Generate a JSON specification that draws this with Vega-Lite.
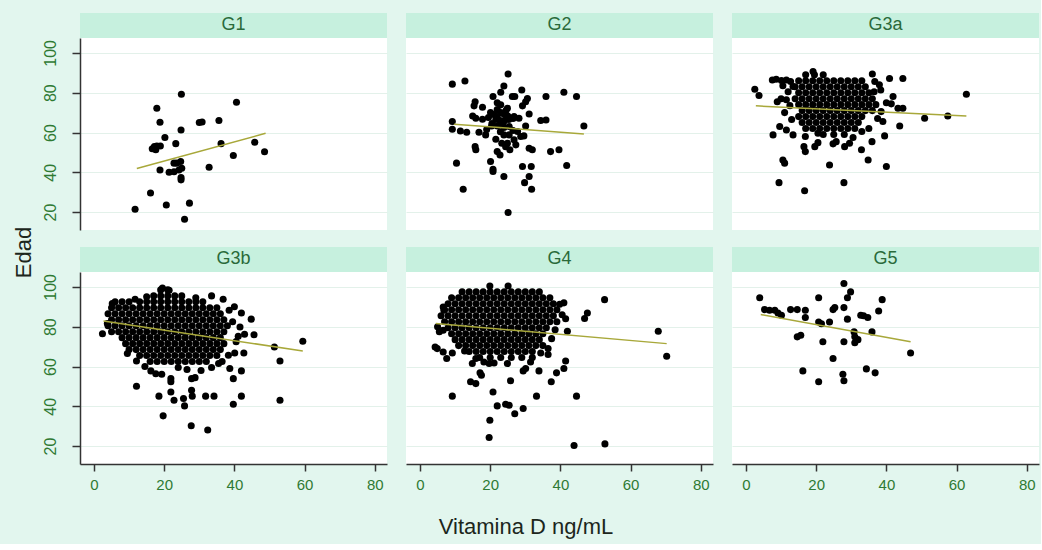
{
"$schema": "https://vega.github.io/schema/vega-lite/v6.json",
"background": "#E2F6EE",
"padding": {"left": 13, "top": 12, "right": 2, "bottom": 6},
"title": {"text": "Vitamina D ng/mL", "orient": "bottom", "anchor": "middle", "offset": 25, "fontSize": 22, "fontWeight": "normal", "font": "Liberation Sans", "color": "#1c261c"},
"data": {"values": [
{"g":"G1","x":24.9,"y":79.2},{"g":"G1","x":17.9,"y":72.2},{"g":"G1","x":40.6,"y":75.2},{"g":"G1","x":18.8,"y":65.2},{"g":"G1","x":30.0,"y":65.0},{"g":"G1","x":30.8,"y":65.3},{"g":"G1","x":35.6,"y":66.0},{"g":"G1","x":24.8,"y":61.3},{"g":"G1","x":20.2,"y":57.5},{"g":"G1","x":23.3,"y":54.4},{"g":"G1","x":36.2,"y":54.4},{"g":"G1","x":45.8,"y":55.1},{"g":"G1","x":48.6,"y":50.3},{"g":"G1","x":16.6,"y":51.8},{"g":"G1","x":17.2,"y":52.9},{"g":"G1","x":17.9,"y":53.2},{"g":"G1","x":18.9,"y":53.2},{"g":"G1","x":17.6,"y":51.3},{"g":"G1","x":39.7,"y":48.4},{"g":"G1","x":32.8,"y":42.5},{"g":"G1","x":18.8,"y":41.2},{"g":"G1","x":22.8,"y":44.6},{"g":"G1","x":23.6,"y":44.6},{"g":"G1","x":24.7,"y":45.4},{"g":"G1","x":21.4,"y":40.0},{"g":"G1","x":22.8,"y":40.3},{"g":"G1","x":24.2,"y":41.2},{"g":"G1","x":25.0,"y":42.0},{"g":"G1","x":24.8,"y":37.4},{"g":"G1","x":24.8,"y":36.2},{"g":"G1","x":16.1,"y":29.6},{"g":"G1","x":11.7,"y":21.4},{"g":"G1","x":20.6,"y":23.6},{"g":"G1","x":27.2,"y":24.5},{"g":"G1","x":25.8,"y":16.4},
{"g":"G2","x":25.1,"y":89.4},{"g":"G2","x":9.2,"y":84.3},{"g":"G2","x":12.8,"y":85.9},{"g":"G2","x":23.9,"y":83.4},{"g":"G2","x":29.0,"y":81.4},{"g":"G2","x":41.0,"y":80.2},{"g":"G2","x":44.6,"y":78.1},{"g":"G2","x":35.9,"y":78.1},{"g":"G2","x":20.8,"y":78.1},{"g":"G2","x":23.0,"y":80.2},{"g":"G2","x":26.3,"y":78.1},{"g":"G2","x":27.0,"y":78.1},{"g":"G2","x":30.6,"y":77.1},{"g":"G2","x":30.1,"y":75.5},{"g":"G2","x":15.7,"y":75.5},{"g":"G2","x":15.4,"y":73.4},{"g":"G2","x":17.8,"y":72.7},{"g":"G2","x":22.0,"y":75.0},{"g":"G2","x":23.0,"y":73.9},{"g":"G2","x":24.9,"y":72.2},{"g":"G2","x":29.2,"y":73.4},{"g":"G2","x":31.1,"y":69.3},{"g":"G2","x":15.0,"y":68.3},{"g":"G2","x":15.9,"y":67.2},{"g":"G2","x":17.8,"y":66.7},{"g":"G2","x":20.1,"y":70.0},{"g":"G2","x":21.0,"y":69.0},{"g":"G2","x":22.0,"y":68.0},{"g":"G2","x":23.0,"y":70.0},{"g":"G2","x":24.0,"y":69.0},{"g":"G2","x":25.0,"y":68.3},{"g":"G2","x":21.6,"y":66.5},{"g":"G2","x":22.8,"y":66.0},{"g":"G2","x":24.0,"y":65.8},{"g":"G2","x":25.3,"y":66.5},{"g":"G2","x":26.5,"y":67.0},{"g":"G2","x":20.5,"y":64.5},{"g":"G2","x":23.5,"y":64.0},{"g":"G2","x":19.5,"y":67.5},{"g":"G2","x":24.5,"y":71.0},{"g":"G2","x":22.0,"y":71.5},{"g":"G2","x":26.8,"y":68.0},{"g":"G2","x":28.2,"y":67.2},{"g":"G2","x":34.4,"y":66.0},{"g":"G2","x":35.9,"y":66.3},{"g":"G2","x":9.2,"y":65.5},{"g":"G2","x":9.2,"y":61.6},{"g":"G2","x":13.3,"y":60.1},{"g":"G2","x":16.8,"y":60.1},{"g":"G2","x":18.7,"y":58.8},{"g":"G2","x":20.4,"y":63.3},{"g":"G2","x":22.0,"y":63.3},{"g":"G2","x":23.9,"y":62.5},{"g":"G2","x":25.4,"y":63.0},{"g":"G2","x":30.1,"y":63.3},{"g":"G2","x":46.7,"y":63.3},{"g":"G2","x":21.6,"y":56.6},{"g":"G2","x":23.9,"y":58.8},{"g":"G2","x":22.9,"y":60.4},{"g":"G2","x":25.4,"y":58.8},{"g":"G2","x":24.9,"y":54.6},{"g":"G2","x":26.8,"y":56.3},{"g":"G2","x":28.7,"y":58.0},{"g":"G2","x":29.6,"y":58.3},{"g":"G2","x":23.3,"y":54.6},{"g":"G2","x":24.4,"y":52.9},{"g":"G2","x":25.6,"y":51.3},{"g":"G2","x":27.3,"y":53.8},{"g":"G2","x":15.7,"y":52.9},{"g":"G2","x":15.9,"y":51.3},{"g":"G2","x":31.1,"y":52.1},{"g":"G2","x":32.0,"y":51.3},{"g":"G2","x":37.2,"y":50.4},{"g":"G2","x":39.6,"y":51.3},{"g":"G2","x":22.0,"y":50.4},{"g":"G2","x":22.8,"y":48.7},{"g":"G2","x":10.4,"y":44.6},{"g":"G2","x":20.1,"y":45.4},{"g":"G2","x":20.8,"y":41.5},{"g":"G2","x":20.8,"y":40.4},{"g":"G2","x":29.2,"y":42.9},{"g":"G2","x":31.7,"y":42.9},{"g":"G2","x":41.8,"y":43.4},{"g":"G2","x":23.9,"y":37.9},{"g":"G2","x":31.1,"y":37.9},{"g":"G2","x":29.8,"y":34.8},{"g":"G2","x":12.3,"y":31.5},{"g":"G2","x":31.8,"y":31.5},{"g":"G2","x":25.1,"y":19.8},{"g":"G2","x":26.5,"y":61.0},{"g":"G2","x":27.8,"y":60.5},{"g":"G2","x":19.0,"y":61.5},{"g":"G2","x":11.5,"y":60.8},
{"g":"G3a","x":17,"y":89},{"g":"G3a","x":19.5,"y":89},{"g":"G3a","x":22,"y":89},
{"g":"G3a","x":15,"y":86},{"g":"G3a","x":17,"y":86},{"g":"G3a","x":19,"y":86},{"g":"G3a","x":21,"y":86},{"g":"G3a","x":23,"y":86},{"g":"G3a","x":25,"y":86},{"g":"G3a","x":27,"y":86},{"g":"G3a","x":29,"y":86},{"g":"G3a","x":31,"y":86},{"g":"G3a","x":33,"y":86},
{"g":"G3a","x":14,"y":83},{"g":"G3a","x":16,"y":83},{"g":"G3a","x":18,"y":83},{"g":"G3a","x":20,"y":83},{"g":"G3a","x":22,"y":83},{"g":"G3a","x":24,"y":83},{"g":"G3a","x":26,"y":83},{"g":"G3a","x":28,"y":83},{"g":"G3a","x":30,"y":83},{"g":"G3a","x":32,"y":83},{"g":"G3a","x":34,"y":83},
{"g":"G3a","x":15,"y":80},{"g":"G3a","x":17,"y":80},{"g":"G3a","x":19,"y":80},{"g":"G3a","x":21,"y":80},{"g":"G3a","x":23,"y":80},{"g":"G3a","x":25,"y":80},{"g":"G3a","x":27,"y":80},{"g":"G3a","x":29,"y":80},{"g":"G3a","x":31,"y":80},{"g":"G3a","x":33,"y":80},{"g":"G3a","x":35,"y":80},
{"g":"G3a","x":14,"y":77},{"g":"G3a","x":16,"y":77},{"g":"G3a","x":18,"y":77},{"g":"G3a","x":20,"y":77},{"g":"G3a","x":22,"y":77},{"g":"G3a","x":24,"y":77},{"g":"G3a","x":26,"y":77},{"g":"G3a","x":28,"y":77},{"g":"G3a","x":30,"y":77},{"g":"G3a","x":32,"y":77},{"g":"G3a","x":34,"y":77},{"g":"G3a","x":36,"y":77},
{"g":"G3a","x":15,"y":74},{"g":"G3a","x":17,"y":74},{"g":"G3a","x":19,"y":74},{"g":"G3a","x":21,"y":74},{"g":"G3a","x":23,"y":74},{"g":"G3a","x":25,"y":74},{"g":"G3a","x":27,"y":74},{"g":"G3a","x":29,"y":74},{"g":"G3a","x":31,"y":74},{"g":"G3a","x":33,"y":74},{"g":"G3a","x":35,"y":74},{"g":"G3a","x":37,"y":74},
{"g":"G3a","x":16,"y":71},{"g":"G3a","x":18,"y":71},{"g":"G3a","x":20,"y":71},{"g":"G3a","x":22,"y":71},{"g":"G3a","x":24,"y":71},{"g":"G3a","x":26,"y":71},{"g":"G3a","x":28,"y":71},{"g":"G3a","x":30,"y":71},{"g":"G3a","x":32,"y":71},{"g":"G3a","x":34,"y":71},{"g":"G3a","x":36,"y":71},
{"g":"G3a","x":15,"y":68},{"g":"G3a","x":17,"y":68},{"g":"G3a","x":19,"y":68},{"g":"G3a","x":21,"y":68},{"g":"G3a","x":23,"y":68},{"g":"G3a","x":25,"y":68},{"g":"G3a","x":27,"y":68},{"g":"G3a","x":29,"y":68},{"g":"G3a","x":31,"y":68},{"g":"G3a","x":33,"y":68},
{"g":"G3a","x":16,"y":65},{"g":"G3a","x":18,"y":65},{"g":"G3a","x":20,"y":65},{"g":"G3a","x":22,"y":65},{"g":"G3a","x":24,"y":65},{"g":"G3a","x":26,"y":65},{"g":"G3a","x":28,"y":65},{"g":"G3a","x":30,"y":65},{"g":"G3a","x":32,"y":65},
{"g":"G3a","x":17,"y":62},{"g":"G3a","x":19,"y":62},{"g":"G3a","x":21,"y":62},{"g":"G3a","x":23,"y":62},{"g":"G3a","x":25,"y":62},{"g":"G3a","x":27,"y":62},{"g":"G3a","x":29,"y":62},{"g":"G3a","x":31,"y":62},
{"g":"G3a","x":22,"y":59},{"g":"G3a","x":25,"y":59},{"g":"G3a","x":28,"y":59},
{"g":"G3a","x":2.5,"y":81.7},{"g":"G3a","x":3.7,"y":78.6},{"g":"G3a","x":7.5,"y":86.4},{"g":"G3a","x":8.6,"y":86.8},{"g":"G3a","x":10.1,"y":86.1},{"g":"G3a","x":11.5,"y":86.4},{"g":"G3a","x":12.7,"y":85.6},{"g":"G3a","x":13.4,"y":83.1},{"g":"G3a","x":19.1,"y":90.6},{"g":"G3a","x":36.0,"y":89.4},{"g":"G3a","x":36.7,"y":85.6},{"g":"G3a","x":40.9,"y":87.1},{"g":"G3a","x":44.7,"y":87.1},{"g":"G3a","x":38.4,"y":81.4},{"g":"G3a","x":41.9,"y":78.1},{"g":"G3a","x":40.0,"y":75.0},{"g":"G3a","x":41.4,"y":74.4},{"g":"G3a","x":43.3,"y":72.2},{"g":"G3a","x":44.7,"y":72.2},{"g":"G3a","x":62.8,"y":79.2},{"g":"G3a","x":50.9,"y":67.2},{"g":"G3a","x":57.5,"y":68.3},{"g":"G3a","x":39.0,"y":65.5},{"g":"G3a","x":43.8,"y":63.3},{"g":"G3a","x":39.5,"y":58.3},{"g":"G3a","x":35.9,"y":55.4},{"g":"G3a","x":40.0,"y":42.9},{"g":"G3a","x":34.8,"y":46.2},{"g":"G3a","x":23.8,"y":43.7},{"g":"G3a","x":10.5,"y":46.2},{"g":"G3a","x":11.0,"y":44.6},{"g":"G3a","x":9.4,"y":34.8},{"g":"G3a","x":16.7,"y":30.7},{"g":"G3a","x":27.9,"y":34.8},{"g":"G3a","x":7.7,"y":58.8},{"g":"G3a","x":9.6,"y":63.0},{"g":"G3a","x":11.5,"y":61.3},{"g":"G3a","x":13.4,"y":58.8},{"g":"G3a","x":11.0,"y":70.0},{"g":"G3a","x":8.9,"y":75.5},{"g":"G3a","x":10.0,"y":77.0},{"g":"G3a","x":11.5,"y":76.5},{"g":"G3a","x":16.9,"y":58.0},{"g":"G3a","x":20.5,"y":59.6},{"g":"G3a","x":16.5,"y":52.9},{"g":"G3a","x":16.9,"y":50.4},{"g":"G3a","x":19.6,"y":52.9},{"g":"G3a","x":20.5,"y":54.9},{"g":"G3a","x":24.8,"y":54.3},{"g":"G3a","x":25.7,"y":55.4},{"g":"G3a","x":28.1,"y":52.9},{"g":"G3a","x":29.5,"y":54.6},{"g":"G3a","x":32.9,"y":51.3},{"g":"G3a","x":30.5,"y":57.5},{"g":"G3a","x":33.0,"y":60.5},{"g":"G3a","x":35.0,"y":62.0},{"g":"G3a","x":37.5,"y":67.0},{"g":"G3a","x":38.5,"y":70.5},{"g":"G3a","x":36.5,"y":80.5},{"g":"G3a","x":38.0,"y":84.0},{"g":"G3a","x":10.5,"y":83.5},{"g":"G3a","x":12.0,"y":80.5},{"g":"G3a","x":13.0,"y":66.5},{"g":"G3a","x":12.5,"y":73.5},
{"g":"G3b","x":19,"y":98.5},{"g":"G3b","x":21,"y":98.5},
{"g":"G3b","x":17,"y":95.5},{"g":"G3b","x":19,"y":95.5},{"g":"G3b","x":21,"y":95.5},{"g":"G3b","x":23,"y":95.5},{"g":"G3b","x":25,"y":95.5},
{"g":"G3b","x":6,"y":92.5},{"g":"G3b","x":8,"y":92.5},{"g":"G3b","x":10,"y":92.5},{"g":"G3b","x":13,"y":92.5},{"g":"G3b","x":15,"y":92.5},{"g":"G3b","x":17,"y":92.5},{"g":"G3b","x":19,"y":92.5},{"g":"G3b","x":21,"y":92.5},{"g":"G3b","x":23,"y":92.5},{"g":"G3b","x":25,"y":92.5},{"g":"G3b","x":27,"y":92.5},{"g":"G3b","x":29,"y":92.5},{"g":"G3b","x":31,"y":92.5},
{"g":"G3b","x":5,"y":89.5},{"g":"G3b","x":7,"y":89.5},{"g":"G3b","x":9,"y":89.5},{"g":"G3b","x":11,"y":89.5},{"g":"G3b","x":13,"y":89.5},{"g":"G3b","x":15,"y":89.5},{"g":"G3b","x":17,"y":89.5},{"g":"G3b","x":19,"y":89.5},{"g":"G3b","x":21,"y":89.5},{"g":"G3b","x":23,"y":89.5},{"g":"G3b","x":25,"y":89.5},{"g":"G3b","x":27,"y":89.5},{"g":"G3b","x":29,"y":89.5},{"g":"G3b","x":31,"y":89.5},{"g":"G3b","x":33,"y":89.5},{"g":"G3b","x":35,"y":89.5},
{"g":"G3b","x":4,"y":86.5},{"g":"G3b","x":6,"y":86.5},{"g":"G3b","x":8,"y":86.5},{"g":"G3b","x":10,"y":86.5},{"g":"G3b","x":12,"y":86.5},{"g":"G3b","x":14,"y":86.5},{"g":"G3b","x":16,"y":86.5},{"g":"G3b","x":18,"y":86.5},{"g":"G3b","x":20,"y":86.5},{"g":"G3b","x":22,"y":86.5},{"g":"G3b","x":24,"y":86.5},{"g":"G3b","x":26,"y":86.5},{"g":"G3b","x":28,"y":86.5},{"g":"G3b","x":30,"y":86.5},{"g":"G3b","x":32,"y":86.5},{"g":"G3b","x":34,"y":86.5},{"g":"G3b","x":36,"y":86.5},
{"g":"G3b","x":5,"y":83.5},{"g":"G3b","x":7,"y":83.5},{"g":"G3b","x":9,"y":83.5},{"g":"G3b","x":11,"y":83.5},{"g":"G3b","x":13,"y":83.5},{"g":"G3b","x":15,"y":83.5},{"g":"G3b","x":17,"y":83.5},{"g":"G3b","x":19,"y":83.5},{"g":"G3b","x":21,"y":83.5},{"g":"G3b","x":23,"y":83.5},{"g":"G3b","x":25,"y":83.5},{"g":"G3b","x":27,"y":83.5},{"g":"G3b","x":29,"y":83.5},{"g":"G3b","x":31,"y":83.5},{"g":"G3b","x":33,"y":83.5},{"g":"G3b","x":35,"y":83.5},{"g":"G3b","x":37,"y":83.5},
{"g":"G3b","x":4,"y":80.5},{"g":"G3b","x":6,"y":80.5},{"g":"G3b","x":8,"y":80.5},{"g":"G3b","x":10,"y":80.5},{"g":"G3b","x":12,"y":80.5},{"g":"G3b","x":14,"y":80.5},{"g":"G3b","x":16,"y":80.5},{"g":"G3b","x":18,"y":80.5},{"g":"G3b","x":20,"y":80.5},{"g":"G3b","x":22,"y":80.5},{"g":"G3b","x":24,"y":80.5},{"g":"G3b","x":26,"y":80.5},{"g":"G3b","x":28,"y":80.5},{"g":"G3b","x":30,"y":80.5},{"g":"G3b","x":32,"y":80.5},{"g":"G3b","x":34,"y":80.5},{"g":"G3b","x":36,"y":80.5},{"g":"G3b","x":38,"y":80.5},
{"g":"G3b","x":5,"y":77.5},{"g":"G3b","x":7,"y":77.5},{"g":"G3b","x":9,"y":77.5},{"g":"G3b","x":11,"y":77.5},{"g":"G3b","x":13,"y":77.5},{"g":"G3b","x":15,"y":77.5},{"g":"G3b","x":17,"y":77.5},{"g":"G3b","x":19,"y":77.5},{"g":"G3b","x":21,"y":77.5},{"g":"G3b","x":23,"y":77.5},{"g":"G3b","x":25,"y":77.5},{"g":"G3b","x":27,"y":77.5},{"g":"G3b","x":29,"y":77.5},{"g":"G3b","x":31,"y":77.5},{"g":"G3b","x":33,"y":77.5},{"g":"G3b","x":35,"y":77.5},{"g":"G3b","x":37,"y":77.5},
{"g":"G3b","x":8,"y":74.5},{"g":"G3b","x":10,"y":74.5},{"g":"G3b","x":12,"y":74.5},{"g":"G3b","x":14,"y":74.5},{"g":"G3b","x":16,"y":74.5},{"g":"G3b","x":18,"y":74.5},{"g":"G3b","x":20,"y":74.5},{"g":"G3b","x":22,"y":74.5},{"g":"G3b","x":24,"y":74.5},{"g":"G3b","x":26,"y":74.5},{"g":"G3b","x":28,"y":74.5},{"g":"G3b","x":30,"y":74.5},{"g":"G3b","x":32,"y":74.5},{"g":"G3b","x":34,"y":74.5},{"g":"G3b","x":36,"y":74.5},
{"g":"G3b","x":9,"y":71.5},{"g":"G3b","x":11,"y":71.5},{"g":"G3b","x":13,"y":71.5},{"g":"G3b","x":15,"y":71.5},{"g":"G3b","x":17,"y":71.5},{"g":"G3b","x":19,"y":71.5},{"g":"G3b","x":21,"y":71.5},{"g":"G3b","x":23,"y":71.5},{"g":"G3b","x":25,"y":71.5},{"g":"G3b","x":27,"y":71.5},{"g":"G3b","x":29,"y":71.5},{"g":"G3b","x":31,"y":71.5},{"g":"G3b","x":33,"y":71.5},{"g":"G3b","x":35,"y":71.5},{"g":"G3b","x":37,"y":71.5},
{"g":"G3b","x":12,"y":68.5},{"g":"G3b","x":14,"y":68.5},{"g":"G3b","x":16,"y":68.5},{"g":"G3b","x":18,"y":68.5},{"g":"G3b","x":20,"y":68.5},{"g":"G3b","x":22,"y":68.5},{"g":"G3b","x":24,"y":68.5},{"g":"G3b","x":26,"y":68.5},{"g":"G3b","x":28,"y":68.5},{"g":"G3b","x":30,"y":68.5},{"g":"G3b","x":32,"y":68.5},{"g":"G3b","x":34,"y":68.5},{"g":"G3b","x":36,"y":68.5},
{"g":"G3b","x":13,"y":65.5},{"g":"G3b","x":15,"y":65.5},{"g":"G3b","x":17,"y":65.5},{"g":"G3b","x":19,"y":65.5},{"g":"G3b","x":21,"y":65.5},{"g":"G3b","x":23,"y":65.5},{"g":"G3b","x":25,"y":65.5},{"g":"G3b","x":27,"y":65.5},{"g":"G3b","x":29,"y":65.5},{"g":"G3b","x":31,"y":65.5},{"g":"G3b","x":33,"y":65.5},{"g":"G3b","x":35,"y":65.5},
{"g":"G3b","x":16,"y":62.5},{"g":"G3b","x":18,"y":62.5},{"g":"G3b","x":20,"y":62.5},{"g":"G3b","x":22,"y":62.5},{"g":"G3b","x":24,"y":62.5},{"g":"G3b","x":26,"y":62.5},{"g":"G3b","x":28,"y":62.5},{"g":"G3b","x":30,"y":62.5},{"g":"G3b","x":32,"y":62.5},
{"g":"G3b","x":2.4,"y":76.5},{"g":"G3b","x":3.8,"y":81.6},{"g":"G3b","x":5.2,"y":91.6},{"g":"G3b","x":11.7,"y":93.8},{"g":"G3b","x":19.5,"y":99.5},{"g":"G3b","x":21.4,"y":98.3},{"g":"G3b","x":29.0,"y":94.6},{"g":"G3b","x":36.8,"y":93.8},{"g":"G3b","x":38.5,"y":88.3},{"g":"G3b","x":42.0,"y":86.9},{"g":"G3b","x":44.8,"y":83.8},{"g":"G3b","x":45.6,"y":76.0},{"g":"G3b","x":41.6,"y":79.9},{"g":"G3b","x":42.9,"y":76.2},{"g":"G3b","x":41.1,"y":75.2},{"g":"G3b","x":40.1,"y":66.8},{"g":"G3b","x":38.3,"y":65.7},{"g":"G3b","x":51.4,"y":69.8},{"g":"G3b","x":59.5,"y":72.7},{"g":"G3b","x":53.0,"y":62.8},{"g":"G3b","x":53.0,"y":43.0},{"g":"G3b","x":12.1,"y":62.8},{"g":"G3b","x":12.1,"y":50.1},{"g":"G3b","x":16.2,"y":57.8},{"g":"G3b","x":17.6,"y":56.4},{"g":"G3b","x":19.3,"y":56.1},{"g":"G3b","x":21.9,"y":53.9},{"g":"G3b","x":21.9,"y":52.3},{"g":"G3b","x":27.8,"y":53.9},{"g":"G3b","x":28.8,"y":54.4},{"g":"G3b","x":18.5,"y":45.1},{"g":"G3b","x":21.9,"y":47.2},{"g":"G3b","x":22.8,"y":43.0},{"g":"G3b","x":25.5,"y":43.9},{"g":"G3b","x":27.8,"y":48.1},{"g":"G3b","x":28.0,"y":45.1},{"g":"G3b","x":25.8,"y":40.2},{"g":"G3b","x":31.8,"y":45.1},{"g":"G3b","x":34.2,"y":45.1},{"g":"G3b","x":39.7,"y":41.0},{"g":"G3b","x":42.0,"y":45.1},{"g":"G3b","x":19.7,"y":35.2},{"g":"G3b","x":27.7,"y":30.2},{"g":"G3b","x":32.4,"y":28.1},{"g":"G3b","x":39.7,"y":53.9},{"g":"G3b","x":42.0,"y":57.8},{"g":"G3b","x":38.7,"y":59.0},{"g":"G3b","x":35.5,"y":61.5},{"g":"G3b","x":36.5,"y":62.5},{"g":"G3b","x":42.7,"y":66.8},{"g":"G3b","x":10.0,"y":68.5},{"g":"G3b","x":9.5,"y":66.5},{"g":"G3b","x":14.5,"y":60.0},{"g":"G3b","x":24.0,"y":59.5},{"g":"G3b","x":26.5,"y":58.5},{"g":"G3b","x":30.5,"y":58.0},{"g":"G3b","x":33.5,"y":59.5},{"g":"G3b","x":40.5,"y":72.5},{"g":"G3b","x":39.5,"y":82.5},{"g":"G3b","x":40.0,"y":90.0},{"g":"G3b","x":33.5,"y":95.5},{"g":"G3b","x":15.0,"y":95.0},
{"g":"G4","x":12,"y":97.5},{"g":"G4","x":14,"y":97.5},{"g":"G4","x":16,"y":97.5},{"g":"G4","x":18,"y":97.5},{"g":"G4","x":20,"y":97.5},{"g":"G4","x":22,"y":97.5},{"g":"G4","x":24,"y":97.5},{"g":"G4","x":26,"y":97.5},{"g":"G4","x":28,"y":97.5},{"g":"G4","x":30,"y":97.5},{"g":"G4","x":32,"y":97.5},{"g":"G4","x":34,"y":97.5},
{"g":"G4","x":9,"y":94.5},{"g":"G4","x":11,"y":94.5},{"g":"G4","x":13,"y":94.5},{"g":"G4","x":15,"y":94.5},{"g":"G4","x":17,"y":94.5},{"g":"G4","x":19,"y":94.5},{"g":"G4","x":21,"y":94.5},{"g":"G4","x":23,"y":94.5},{"g":"G4","x":25,"y":94.5},{"g":"G4","x":27,"y":94.5},{"g":"G4","x":29,"y":94.5},{"g":"G4","x":31,"y":94.5},{"g":"G4","x":33,"y":94.5},{"g":"G4","x":35,"y":94.5},{"g":"G4","x":37,"y":94.5},
{"g":"G4","x":8,"y":91.5},{"g":"G4","x":10,"y":91.5},{"g":"G4","x":12,"y":91.5},{"g":"G4","x":14,"y":91.5},{"g":"G4","x":16,"y":91.5},{"g":"G4","x":18,"y":91.5},{"g":"G4","x":20,"y":91.5},{"g":"G4","x":22,"y":91.5},{"g":"G4","x":24,"y":91.5},{"g":"G4","x":26,"y":91.5},{"g":"G4","x":28,"y":91.5},{"g":"G4","x":30,"y":91.5},{"g":"G4","x":32,"y":91.5},{"g":"G4","x":34,"y":91.5},{"g":"G4","x":36,"y":91.5},{"g":"G4","x":38,"y":91.5},
{"g":"G4","x":7,"y":88.5},{"g":"G4","x":9,"y":88.5},{"g":"G4","x":11,"y":88.5},{"g":"G4","x":13,"y":88.5},{"g":"G4","x":15,"y":88.5},{"g":"G4","x":17,"y":88.5},{"g":"G4","x":19,"y":88.5},{"g":"G4","x":21,"y":88.5},{"g":"G4","x":23,"y":88.5},{"g":"G4","x":25,"y":88.5},{"g":"G4","x":27,"y":88.5},{"g":"G4","x":29,"y":88.5},{"g":"G4","x":31,"y":88.5},{"g":"G4","x":33,"y":88.5},{"g":"G4","x":35,"y":88.5},{"g":"G4","x":37,"y":88.5},{"g":"G4","x":39,"y":88.5},
{"g":"G4","x":6,"y":85.5},{"g":"G4","x":8,"y":85.5},{"g":"G4","x":10,"y":85.5},{"g":"G4","x":12,"y":85.5},{"g":"G4","x":14,"y":85.5},{"g":"G4","x":16,"y":85.5},{"g":"G4","x":18,"y":85.5},{"g":"G4","x":20,"y":85.5},{"g":"G4","x":22,"y":85.5},{"g":"G4","x":24,"y":85.5},{"g":"G4","x":26,"y":85.5},{"g":"G4","x":28,"y":85.5},{"g":"G4","x":30,"y":85.5},{"g":"G4","x":32,"y":85.5},{"g":"G4","x":34,"y":85.5},{"g":"G4","x":36,"y":85.5},{"g":"G4","x":38,"y":85.5},
{"g":"G4","x":7,"y":82.5},{"g":"G4","x":9,"y":82.5},{"g":"G4","x":11,"y":82.5},{"g":"G4","x":13,"y":82.5},{"g":"G4","x":15,"y":82.5},{"g":"G4","x":17,"y":82.5},{"g":"G4","x":19,"y":82.5},{"g":"G4","x":21,"y":82.5},{"g":"G4","x":23,"y":82.5},{"g":"G4","x":25,"y":82.5},{"g":"G4","x":27,"y":82.5},{"g":"G4","x":29,"y":82.5},{"g":"G4","x":31,"y":82.5},{"g":"G4","x":33,"y":82.5},{"g":"G4","x":35,"y":82.5},{"g":"G4","x":37,"y":82.5},{"g":"G4","x":39,"y":82.5},
{"g":"G4","x":8,"y":79.5},{"g":"G4","x":10,"y":79.5},{"g":"G4","x":12,"y":79.5},{"g":"G4","x":14,"y":79.5},{"g":"G4","x":16,"y":79.5},{"g":"G4","x":18,"y":79.5},{"g":"G4","x":20,"y":79.5},{"g":"G4","x":22,"y":79.5},{"g":"G4","x":24,"y":79.5},{"g":"G4","x":26,"y":79.5},{"g":"G4","x":28,"y":79.5},{"g":"G4","x":30,"y":79.5},{"g":"G4","x":32,"y":79.5},{"g":"G4","x":34,"y":79.5},{"g":"G4","x":36,"y":79.5},
{"g":"G4","x":9,"y":76.5},{"g":"G4","x":11,"y":76.5},{"g":"G4","x":13,"y":76.5},{"g":"G4","x":15,"y":76.5},{"g":"G4","x":17,"y":76.5},{"g":"G4","x":19,"y":76.5},{"g":"G4","x":21,"y":76.5},{"g":"G4","x":23,"y":76.5},{"g":"G4","x":25,"y":76.5},{"g":"G4","x":27,"y":76.5},{"g":"G4","x":29,"y":76.5},{"g":"G4","x":31,"y":76.5},{"g":"G4","x":33,"y":76.5},{"g":"G4","x":35,"y":76.5},
{"g":"G4","x":10,"y":73.5},{"g":"G4","x":12,"y":73.5},{"g":"G4","x":14,"y":73.5},{"g":"G4","x":16,"y":73.5},{"g":"G4","x":18,"y":73.5},{"g":"G4","x":20,"y":73.5},{"g":"G4","x":22,"y":73.5},{"g":"G4","x":24,"y":73.5},{"g":"G4","x":26,"y":73.5},{"g":"G4","x":28,"y":73.5},{"g":"G4","x":30,"y":73.5},{"g":"G4","x":32,"y":73.5},{"g":"G4","x":34,"y":73.5},
{"g":"G4","x":11,"y":70.5},{"g":"G4","x":13,"y":70.5},{"g":"G4","x":15,"y":70.5},{"g":"G4","x":17,"y":70.5},{"g":"G4","x":19,"y":70.5},{"g":"G4","x":21,"y":70.5},{"g":"G4","x":23,"y":70.5},{"g":"G4","x":25,"y":70.5},{"g":"G4","x":27,"y":70.5},{"g":"G4","x":29,"y":70.5},{"g":"G4","x":31,"y":70.5},{"g":"G4","x":33,"y":70.5},{"g":"G4","x":35,"y":70.5},
{"g":"G4","x":14,"y":67.5},{"g":"G4","x":16,"y":67.5},{"g":"G4","x":18,"y":67.5},{"g":"G4","x":20,"y":67.5},{"g":"G4","x":22,"y":67.5},{"g":"G4","x":24,"y":67.5},{"g":"G4","x":26,"y":67.5},{"g":"G4","x":28,"y":67.5},{"g":"G4","x":30,"y":67.5},{"g":"G4","x":32,"y":67.5},
{"g":"G4","x":17,"y":64.5},{"g":"G4","x":20,"y":64.5},{"g":"G4","x":23,"y":64.5},{"g":"G4","x":26,"y":64.5},{"g":"G4","x":29,"y":64.5},{"g":"G4","x":32,"y":64.5},
{"g":"G4","x":19.9,"y":100.5},{"g":"G4","x":25.1,"y":100.5},{"g":"G4","x":52.6,"y":93.6},{"g":"G4","x":39.8,"y":91.3},{"g":"G4","x":41.0,"y":92.0},{"g":"G4","x":47.7,"y":86.9},{"g":"G4","x":46.9,"y":84.1},{"g":"G4","x":6.6,"y":89.9},{"g":"G4","x":6.8,"y":88.3},{"g":"G4","x":67.9,"y":77.7},{"g":"G4","x":70.3,"y":65.2},{"g":"G4","x":42.0,"y":77.7},{"g":"G4","x":40.5,"y":86.0},{"g":"G4","x":41.5,"y":84.0},{"g":"G4","x":4.3,"y":69.8},{"g":"G4","x":4.9,"y":69.0},{"g":"G4","x":6.6,"y":67.3},{"g":"G4","x":9.2,"y":66.8},{"g":"G4","x":7.6,"y":64.0},{"g":"G4","x":12.7,"y":67.8},{"g":"G4","x":14.9,"y":61.5},{"g":"G4","x":15.9,"y":64.0},{"g":"G4","x":17.1,"y":56.8},{"g":"G4","x":17.5,"y":55.6},{"g":"G4","x":14.4,"y":52.3},{"g":"G4","x":15.9,"y":51.4},{"g":"G4","x":18.2,"y":62.3},{"g":"G4","x":19.7,"y":61.5},{"g":"G4","x":21.1,"y":61.8},{"g":"G4","x":24.9,"y":61.5},{"g":"G4","x":25.8,"y":52.8},{"g":"G4","x":29.4,"y":57.8},{"g":"G4","x":30.1,"y":59.0},{"g":"G4","x":31.5,"y":62.3},{"g":"G4","x":33.9,"y":57.8},{"g":"G4","x":36.5,"y":69.0},{"g":"G4","x":34.4,"y":66.8},{"g":"G4","x":41.5,"y":62.8},{"g":"G4","x":41.0,"y":59.0},{"g":"G4","x":38.9,"y":56.8},{"g":"G4","x":37.4,"y":52.3},{"g":"G4","x":9.2,"y":45.1},{"g":"G4","x":20.8,"y":47.2},{"g":"G4","x":22.0,"y":40.2},{"g":"G4","x":24.4,"y":41.0},{"g":"G4","x":25.4,"y":40.5},{"g":"G4","x":27.0,"y":36.3},{"g":"G4","x":29.4,"y":38.9},{"g":"G4","x":33.2,"y":45.1},{"g":"G4","x":44.6,"y":45.1},{"g":"G4","x":19.9,"y":33.0},{"g":"G4","x":19.7,"y":24.3},{"g":"G4","x":43.9,"y":20.3},{"g":"G4","x":52.7,"y":21.1},{"g":"G4","x":5.5,"y":77.5},{"g":"G4","x":5.0,"y":80.0},{"g":"G4","x":37.5,"y":74.0},{"g":"G4","x":38.5,"y":78.5},{"g":"G4","x":36.5,"y":66.0},{"g":"G4","x":6.6,"y":78.2},
{"g":"G5","x":3.9,"y":94.6},{"g":"G5","x":5.3,"y":88.6},{"g":"G5","x":6.7,"y":88.3},{"g":"G5","x":8.2,"y":88.3},{"g":"G5","x":9.1,"y":86.9},{"g":"G5","x":10.1,"y":85.8},{"g":"G5","x":12.7,"y":88.6},{"g":"G5","x":14.6,"y":88.6},{"g":"G5","x":16.9,"y":88.3},{"g":"G5","x":16.9,"y":84.6},{"g":"G5","x":20.7,"y":94.6},{"g":"G5","x":27.9,"y":101.7},{"g":"G5","x":29.8,"y":97.5},{"g":"G5","x":28.9,"y":94.6},{"g":"G5","x":38.8,"y":93.6},{"g":"G5","x":24.8,"y":88.6},{"g":"G5","x":25.3,"y":89.6},{"g":"G5","x":27.9,"y":89.6},{"g":"G5","x":28.9,"y":83.8},{"g":"G5","x":32.7,"y":85.8},{"g":"G5","x":34.7,"y":84.6},{"g":"G5","x":37.8,"y":87.9},{"g":"G5","x":20.7,"y":82.4},{"g":"G5","x":23.8,"y":82.4},{"g":"G5","x":15.6,"y":75.7},{"g":"G5","x":14.6,"y":74.9},{"g":"G5","x":21.9,"y":72.4},{"g":"G5","x":27.9,"y":72.4},{"g":"G5","x":30.8,"y":77.4},{"g":"G5","x":31.0,"y":74.9},{"g":"G5","x":31.0,"y":71.9},{"g":"G5","x":31.9,"y":73.5},{"g":"G5","x":35.9,"y":77.4},{"g":"G5","x":46.9,"y":66.8},{"g":"G5","x":24.8,"y":64.0},{"g":"G5","x":16.2,"y":57.8},{"g":"G5","x":20.7,"y":52.3},{"g":"G5","x":27.6,"y":56.1},{"g":"G5","x":27.9,"y":52.8},{"g":"G5","x":34.3,"y":58.8},{"g":"G5","x":36.8,"y":56.8},{"g":"G5","x":21.5,"y":81.5},{"g":"G5","x":33.5,"y":85.5},
{"g":"G1","fx":12.2,"fy":41.9},{"g":"G1","fx":48.9,"fy":59.6},
{"g":"G2","fx":9.7,"fy":64.2},{"g":"G2","fx":46.7,"fy":59.3},
{"g":"G3a","fx":2.8,"fy":73.4},{"g":"G3a","fx":62.8,"fy":68.3},
{"g":"G3b","fx":2.7,"fy":82.9},{"g":"G3b","fx":59.5,"fy":67.8},
{"g":"G4","fx":4.5,"fy":81.6},{"g":"G4","fx":70.3,"fy":71.5},
{"g":"G5","fx":4.2,"fy":86.1},{"g":"G5","fx":46.9,"fy":72.4}
]},
"vconcat": [{
"title": {"text": "Edad", "orient": "left", "anchor": "middle", "offset": 6, "fontSize": 22, "fontWeight": "normal", "font": "Liberation Sans", "color": "#1c261c"},
"spacing": 16,
"vconcat": [
{"spacing": 19, "hconcat": [
{"transform": [{"filter": "datum.g == 'G1'"}], "width": 307, "height": 192, "layer": [
 {"transform": [{"filter": "isValid(datum.x)"}], "mark": {"type": "circle", "size": 50, "color": "#000000", "opacity": 1},
  "encoding": {"x": {"field": "x", "type": "quantitative", "scale": {"domain": [-4, 83.5], "nice": false, "zero": false}, "axis": null},
               "y": {"field": "y", "type": "quantitative", "scale": {"domain": [11, 107.5], "nice": false, "zero": false}, "axis": {"title": null, "values": [20, 40, 60, 80, 100]}}}},
 {"transform": [{"aggregate": [{"op": "count", "as": "n"}], "groupby": ["g"]}], "mark": {"type": "rect", "color": "#C6F0DE"},
  "encoding": {"x": {"datum": -4, "type": "quantitative", "axis": null}, "x2": {"datum": 83.5}, "y": {"datum": 107.5, "type": "quantitative", "title": null}, "y2": {"datum": 120.1}}},
 {"transform": [{"aggregate": [{"op": "count", "as": "n"}], "groupby": ["g"]}], "mark": {"type": "text", "fontSize": 18, "font": "Liberation Sans", "color": "#2a6a3a", "baseline": "middle", "align": "center"},
  "encoding": {"x": {"datum": 39.75, "type": "quantitative", "axis": null}, "y": {"datum": 113.8, "type": "quantitative", "title": null}, "text": {"field": "g"}}},
 {"transform": [{"filter": "isValid(datum.fx)"}], "mark": {"type": "line", "color": "#A8A83A", "strokeWidth": 1.5},
  "encoding": {"x": {"field": "fx", "type": "quantitative", "axis": null}, "y": {"field": "fy", "type": "quantitative", "title": null}}}
]},
{"transform": [{"filter": "datum.g == 'G2'"}], "width": 307, "height": 192, "layer": [
 {"transform": [{"filter": "isValid(datum.x)"}], "mark": {"type": "circle", "size": 50, "color": "#000000", "opacity": 1},
  "encoding": {"x": {"field": "x", "type": "quantitative", "scale": {"domain": [-4, 83.5], "nice": false, "zero": false}, "axis": null},
               "y": {"field": "y", "type": "quantitative", "scale": {"domain": [11, 107.5], "nice": false, "zero": false}, "axis": {"title": null, "values": [20, 40, 60, 80, 100], "labels": false, "ticks": false, "domain": false}}}},
 {"transform": [{"aggregate": [{"op": "count", "as": "n"}], "groupby": ["g"]}], "mark": {"type": "rect", "color": "#C6F0DE"},
  "encoding": {"x": {"datum": -4, "type": "quantitative", "axis": null}, "x2": {"datum": 83.5}, "y": {"datum": 107.5, "type": "quantitative", "title": null}, "y2": {"datum": 120.1}}},
 {"transform": [{"aggregate": [{"op": "count", "as": "n"}], "groupby": ["g"]}], "mark": {"type": "text", "fontSize": 18, "font": "Liberation Sans", "color": "#2a6a3a", "baseline": "middle", "align": "center"},
  "encoding": {"x": {"datum": 39.75, "type": "quantitative", "axis": null}, "y": {"datum": 113.8, "type": "quantitative", "title": null}, "text": {"field": "g"}}},
 {"transform": [{"filter": "isValid(datum.fx)"}], "mark": {"type": "line", "color": "#A8A83A", "strokeWidth": 1.5},
  "encoding": {"x": {"field": "fx", "type": "quantitative", "axis": null}, "y": {"field": "fy", "type": "quantitative", "title": null}}}
]},
{"transform": [{"filter": "datum.g == 'G3a'"}], "width": 307, "height": 192, "layer": [
 {"transform": [{"filter": "isValid(datum.x)"}], "mark": {"type": "circle", "size": 50, "color": "#000000", "opacity": 1},
  "encoding": {"x": {"field": "x", "type": "quantitative", "scale": {"domain": [-4, 83.5], "nice": false, "zero": false}, "axis": null},
               "y": {"field": "y", "type": "quantitative", "scale": {"domain": [11, 107.5], "nice": false, "zero": false}, "axis": {"title": null, "values": [20, 40, 60, 80, 100], "labels": false, "ticks": false, "domain": false}}}},
 {"transform": [{"aggregate": [{"op": "count", "as": "n"}], "groupby": ["g"]}], "mark": {"type": "rect", "color": "#C6F0DE"},
  "encoding": {"x": {"datum": -4, "type": "quantitative", "axis": null}, "x2": {"datum": 83.5}, "y": {"datum": 107.5, "type": "quantitative", "title": null}, "y2": {"datum": 120.1}}},
 {"transform": [{"aggregate": [{"op": "count", "as": "n"}], "groupby": ["g"]}], "mark": {"type": "text", "fontSize": 18, "font": "Liberation Sans", "color": "#2a6a3a", "baseline": "middle", "align": "center"},
  "encoding": {"x": {"datum": 39.75, "type": "quantitative", "axis": null}, "y": {"datum": 113.8, "type": "quantitative", "title": null}, "text": {"field": "g"}}},
 {"transform": [{"filter": "isValid(datum.fx)"}], "mark": {"type": "line", "color": "#A8A83A", "strokeWidth": 1.5},
  "encoding": {"x": {"field": "fx", "type": "quantitative", "axis": null}, "y": {"field": "fy", "type": "quantitative", "title": null}}}
]}
]},
{"spacing": 19, "hconcat": [
{"transform": [{"filter": "datum.g == 'G3b'"}], "width": 307, "height": 192, "layer": [
 {"transform": [{"filter": "isValid(datum.x)"}], "mark": {"type": "circle", "size": 50, "color": "#000000", "opacity": 1},
  "encoding": {"x": {"field": "x", "type": "quantitative", "scale": {"domain": [-4, 83.5], "nice": false, "zero": false}, "axis": {"title": null, "values": [0, 20, 40, 60, 80]}},
               "y": {"field": "y", "type": "quantitative", "scale": {"domain": [11, 107.5], "nice": false, "zero": false}, "axis": {"title": null, "values": [20, 40, 60, 80, 100]}}}},
 {"transform": [{"aggregate": [{"op": "count", "as": "n"}], "groupby": ["g"]}], "mark": {"type": "rect", "color": "#C6F0DE"},
  "encoding": {"x": {"datum": -4, "type": "quantitative", "title": null}, "x2": {"datum": 83.5}, "y": {"datum": 107.5, "type": "quantitative", "title": null}, "y2": {"datum": 120.1}}},
 {"transform": [{"aggregate": [{"op": "count", "as": "n"}], "groupby": ["g"]}], "mark": {"type": "text", "fontSize": 18, "font": "Liberation Sans", "color": "#2a6a3a", "baseline": "middle", "align": "center"},
  "encoding": {"x": {"datum": 39.75, "type": "quantitative", "title": null}, "y": {"datum": 113.8, "type": "quantitative", "title": null}, "text": {"field": "g"}}},
 {"transform": [{"filter": "isValid(datum.fx)"}], "mark": {"type": "line", "color": "#A8A83A", "strokeWidth": 1.5},
  "encoding": {"x": {"field": "fx", "type": "quantitative", "title": null}, "y": {"field": "fy", "type": "quantitative", "title": null}}}
]},
{"transform": [{"filter": "datum.g == 'G4'"}], "width": 307, "height": 192, "layer": [
 {"transform": [{"filter": "isValid(datum.x)"}], "mark": {"type": "circle", "size": 50, "color": "#000000", "opacity": 1},
  "encoding": {"x": {"field": "x", "type": "quantitative", "scale": {"domain": [-4, 83.5], "nice": false, "zero": false}, "axis": {"title": null, "values": [0, 20, 40, 60, 80]}},
               "y": {"field": "y", "type": "quantitative", "scale": {"domain": [11, 107.5], "nice": false, "zero": false}, "axis": {"title": null, "values": [20, 40, 60, 80, 100], "labels": false, "ticks": false, "domain": false}}}},
 {"transform": [{"aggregate": [{"op": "count", "as": "n"}], "groupby": ["g"]}], "mark": {"type": "rect", "color": "#C6F0DE"},
  "encoding": {"x": {"datum": -4, "type": "quantitative", "title": null}, "x2": {"datum": 83.5}, "y": {"datum": 107.5, "type": "quantitative", "title": null}, "y2": {"datum": 120.1}}},
 {"transform": [{"aggregate": [{"op": "count", "as": "n"}], "groupby": ["g"]}], "mark": {"type": "text", "fontSize": 18, "font": "Liberation Sans", "color": "#2a6a3a", "baseline": "middle", "align": "center"},
  "encoding": {"x": {"datum": 39.75, "type": "quantitative", "title": null}, "y": {"datum": 113.8, "type": "quantitative", "title": null}, "text": {"field": "g"}}},
 {"transform": [{"filter": "isValid(datum.fx)"}], "mark": {"type": "line", "color": "#A8A83A", "strokeWidth": 1.5},
  "encoding": {"x": {"field": "fx", "type": "quantitative", "title": null}, "y": {"field": "fy", "type": "quantitative", "title": null}}}
]},
{"transform": [{"filter": "datum.g == 'G5'"}], "width": 307, "height": 192, "layer": [
 {"transform": [{"filter": "isValid(datum.x)"}], "mark": {"type": "circle", "size": 50, "color": "#000000", "opacity": 1},
  "encoding": {"x": {"field": "x", "type": "quantitative", "scale": {"domain": [-4, 83.5], "nice": false, "zero": false}, "axis": {"title": null, "values": [0, 20, 40, 60, 80]}},
               "y": {"field": "y", "type": "quantitative", "scale": {"domain": [11, 107.5], "nice": false, "zero": false}, "axis": {"title": null, "values": [20, 40, 60, 80, 100], "labels": false, "ticks": false, "domain": false}}}},
 {"transform": [{"aggregate": [{"op": "count", "as": "n"}], "groupby": ["g"]}], "mark": {"type": "rect", "color": "#C6F0DE"},
  "encoding": {"x": {"datum": -4, "type": "quantitative", "title": null}, "x2": {"datum": 83.5}, "y": {"datum": 107.5, "type": "quantitative", "title": null}, "y2": {"datum": 120.1}}},
 {"transform": [{"aggregate": [{"op": "count", "as": "n"}], "groupby": ["g"]}], "mark": {"type": "text", "fontSize": 18, "font": "Liberation Sans", "color": "#2a6a3a", "baseline": "middle", "align": "center"},
  "encoding": {"x": {"datum": 39.75, "type": "quantitative", "title": null}, "y": {"datum": 113.8, "type": "quantitative", "title": null}, "text": {"field": "g"}}},
 {"transform": [{"filter": "isValid(datum.fx)"}], "mark": {"type": "line", "color": "#A8A83A", "strokeWidth": 1.5},
  "encoding": {"x": {"field": "fx", "type": "quantitative", "title": null}, "y": {"field": "fy", "type": "quantitative", "title": null}}}
]}
]}
]
}],
"config": {
 "view": {"fill": "#FFFFFF", "stroke": null},
 "font": "Liberation Sans",
 "axisX": {"grid": false, "domainColor": "#333333", "domainWidth": 1.5, "tickColor": "#333333", "tickWidth": 1.5, "tickSize": 7, "labelPadding": 6, "labelFontSize": 15, "labelFont": "Liberation Sans", "labelColor": "#2f7a33", "labelFlush": false},
 "axisY": {"grid": true, "gridColor": "#E3F1EA", "gridWidth": 1, "domainColor": "#333333", "domainWidth": 1.5, "tickColor": "#333333", "tickWidth": 1.5, "tickSize": 8, "labelAngle": 270, "labelAlign": "center", "labelBaseline": "bottom", "labelPadding": 14, "labelFontSize": 16, "labelFont": "Liberation Sans", "labelColor": "#2f7a33", "labelFlush": false}
}
}
